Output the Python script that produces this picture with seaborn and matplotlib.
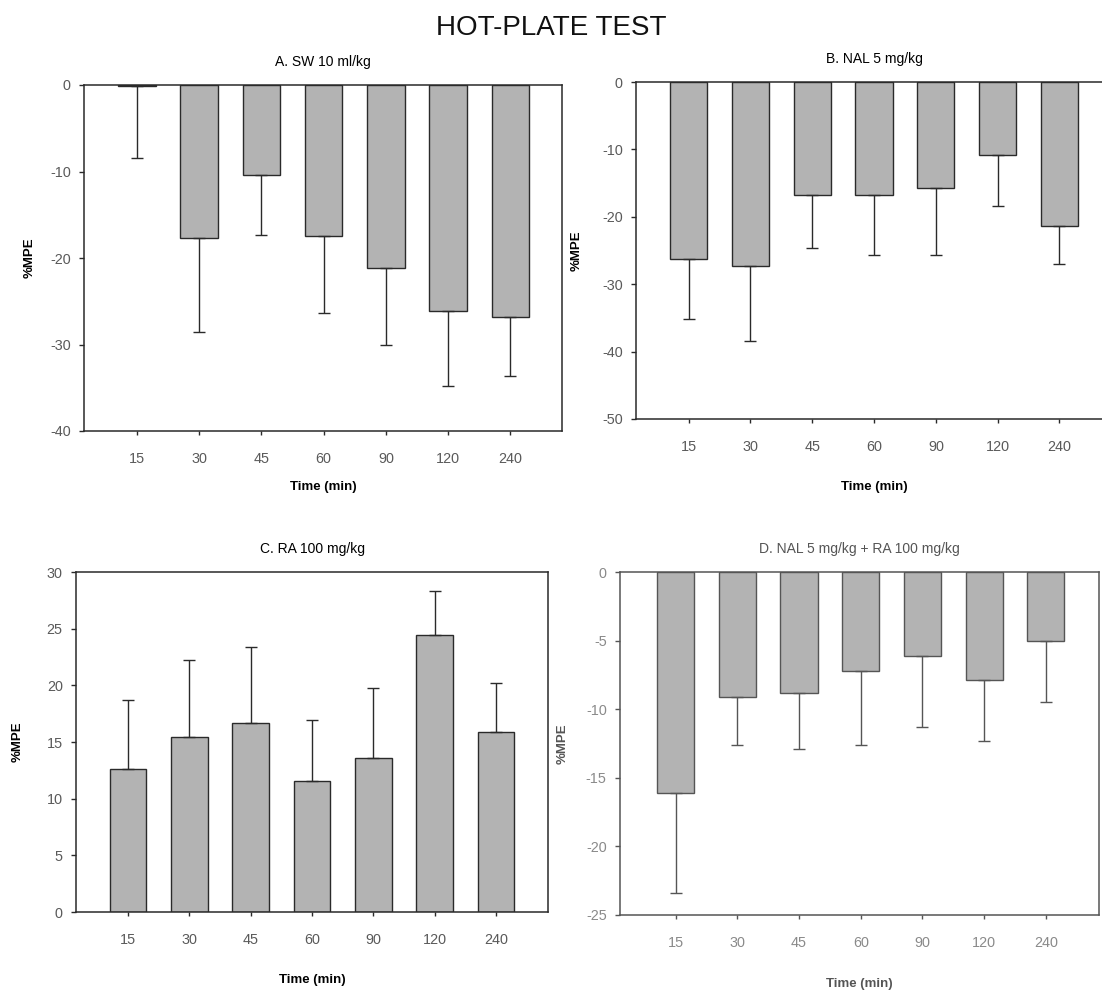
import numpy as np
import pandas as pd
import seaborn as sns
import matplotlib.pyplot as plt

# time points (min)
times = ['15', '30', '45', '60', '90', '120', '240']

# A. SW 10 ml/kg
sw_mean = [-0.1, -17.7, -10.4, -17.5, -21.1, -26.1, -26.8]
sw_sem = [8.3, 10.8, 6.9, 8.9, 9.0, 8.7, 6.8]

# B. NAL 5 mg/kg
nal_mean = [-26.3, -27.3, -16.8, -16.7, -15.7, -10.8, -21.3]
nal_sem = [8.8, 11.1, 7.8, 8.9, 10.0, 7.6, 5.7]

# C. RA 100 mg/kg
ra_mean = [12.6, 15.4, 16.7, 11.6, 13.6, 24.4, 15.9]
ra_sem = [6.1, 6.8, 6.7, 5.3, 6.2, 3.9, 4.3]

# D. NAL 5 mg/kg + RA 100 mg/kg
combo_mean = [-16.1, -9.1, -8.8, -7.2, -6.1, -7.9, -5.0]
combo_sem = [7.3, 3.5, 4.1, 5.4, 5.2, 4.4, 4.5]

sns.set_style("white")
plt.rcParams['font.family'] = ['Liberation Sans', 'DejaVu Sans']
plt.rcParams['axes.unicode_minus'] = False

W, H = 1102, 992
fig = plt.figure(figsize=(W / 100, H / 100), dpi=100)


def px_axes(left, top, right, bottom):
    return fig.add_axes([left / W, 1 - bottom / H, (right - left) / W, (bottom - top) / H])


panels = [
    # title, mean, sem, ylim, step, box (l, t, r, b), xlim, ylabel x, xlabel y, faded
    ("A. SW 10 ml/kg", sw_mean, sw_sem, (-40, 0), 10, (84, 85, 562, 431), (-0.85, 6.83), 54, 56, False),
    ("B. NAL 5 mg/kg", nal_mean, nal_sem, (-50, 0), 10, (636, 82, 1112, 419), (-0.85, 6.85), 59, 68, False),
    ("C. RA 100 mg/kg", ra_mean, ra_sem, (0, 30), 5, (76, 572, 548, 912), (-0.85, 6.85), 58, 68, False),
    ("D. NAL 5 mg/kg + RA 100 mg/kg", combo_mean, combo_sem, (-25, 0), 5, (620, 572, 1099, 915), (-0.9, 6.86), 57, 69, True),
]

for title, mean, sem, ylim, step, box, xlim, ylx, xly, faded in panels:
    ax = px_axes(*box)
    df = pd.DataFrame({'time': times, 'mpe': mean, 'sem': sem})
    edge = '#555555' if faded else '#2a2a2a'
    tcol = '#8a8a8a' if faded else '#5a5a5a'
    lcol = '#555555' if faded else 'black'
    sns.barplot(data=df, x='time', y='mpe', order=times, color='#b3b3b3',
                saturation=1, edgecolor=edge, linewidth=1.0, width=0.6,
                errorbar=None, ax=ax)

    m = np.array(mean)
    s = np.array(sem)
    lower = np.where(m < 0, s, 0)
    upper = np.where(m >= 0, s, 0)
    ax.errorbar(np.arange(len(times)), m, yerr=[lower, upper], fmt='none',
                ecolor=edge, elinewidth=1.0, capsize=4, capthick=1.0, zorder=3)

    ax.set_xlim(*xlim)
    ax.set_ylim(*ylim)
    ax.set_yticks(np.arange(ylim[0], ylim[1] + step, step))
    for sp in ax.spines.values():
        sp.set_visible(True)
        sp.set_color(edge)
        sp.set_linewidth(1.1)

    ax.tick_params(axis='x', direction='out', length=3, width=1, color=edge,
                   pad=12, labelsize=10.4, labelcolor=tcol, bottom=True, top=False)
    ax.tick_params(axis='y', direction='out', length=3.6, width=1, color=edge,
                   pad=6, labelsize=10.4, labelcolor=tcol, left=True, right=False)

    ax.set_title(title, fontsize=10, color=lcol, pad=14)
    ax.set_xlabel("Time (min)", fontsize=9.5, fontweight='bold', color=lcol)
    ax.set_ylabel("%MPE", fontsize=9.5, fontweight='bold', color=lcol)
    width_px = box[2] - box[0]
    height_px = box[3] - box[1]
    ax.xaxis.label.set_va('center')
    ax.yaxis.label.set_va('center')
    ax.xaxis.set_label_coords(0.5, -xly / height_px)
    ax.yaxis.set_label_coords(-ylx / width_px, 0.5)

fig.text(0.5, 1 - 28 / H, "HOT-PLATE TEST", ha='center', va='center', fontsize=20, color='#111111')

plt.savefig("out.png", dpi=100)
